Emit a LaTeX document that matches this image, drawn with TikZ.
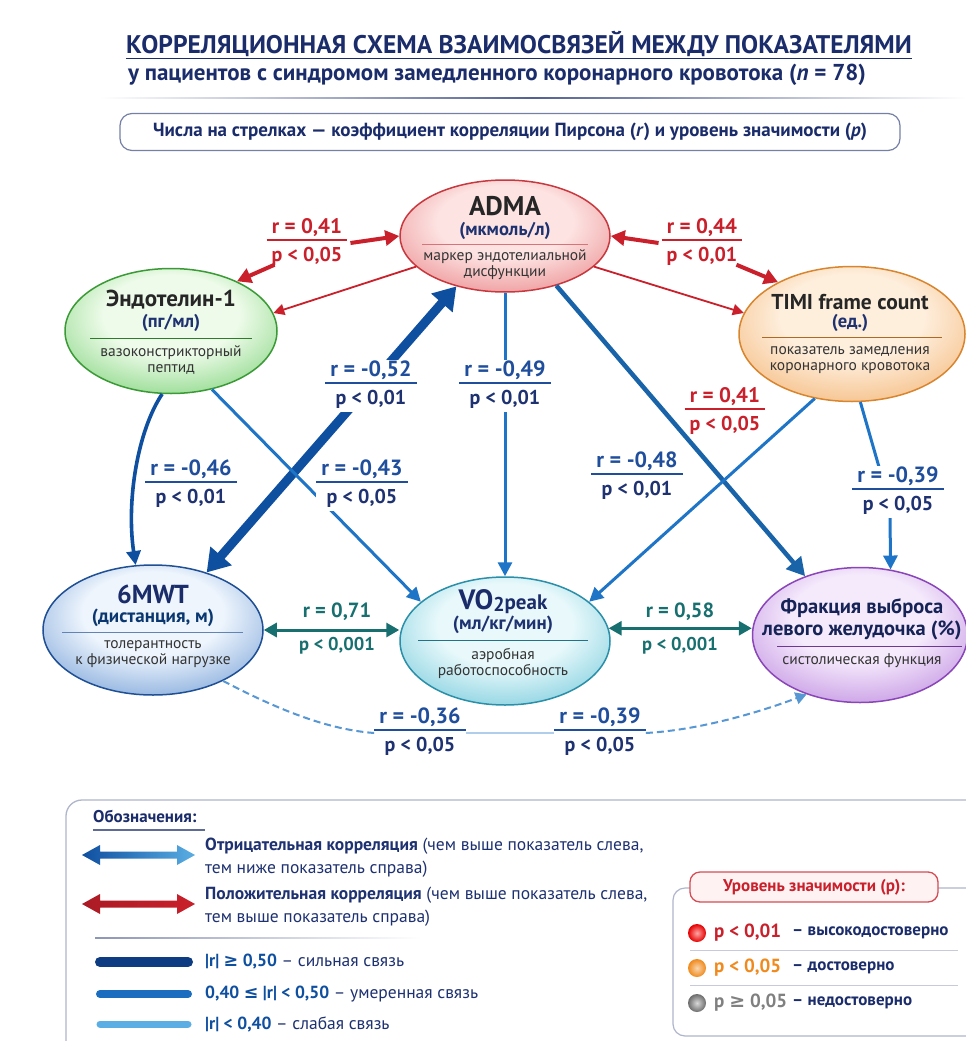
\documentclass[tikz,border=0pt]{standalone}
\usepackage{fontspec}
\setmainfont{PT Sans}
\newfontfamily\symf{DejaVu Sans}
\usetikzlibrary{shapes.geometric,arrows.meta,calc}
\definecolor{navy}{HTML}{1E3170}
\definecolor{tnavy}{HTML}{1B2C6B}
\definecolor{redc}{HTML}{C9202B}
\definecolor{mblue}{HTML}{1E74C6}
\definecolor{dblue}{HTML}{0F4FA0}
\definecolor{lblue}{HTML}{5AAEE3}
\definecolor{barA}{HTML}{0E3C82}
\definecolor{barB}{HTML}{1B6EBF}
\definecolor{barC}{HTML}{5BAEE4}
\definecolor{tealc}{HTML}{17706F}
\definecolor{dgray}{HTML}{333333}
\definecolor{orng}{HTML}{F08A1C}
\definecolor{labblue}{HTML}{1F4E9C}
% ellipse colours
\definecolor{aIn}{HTML}{FDE4E3}\definecolor{aOut}{HTML}{E0575C}\definecolor{aB}{HTML}{C8393F}
\definecolor{eIn}{HTML}{EEFBEA}\definecolor{eOut}{HTML}{45BE41}\definecolor{eB}{HTML}{3A9A36}
\definecolor{tIn}{HTML}{FEEEDC}\definecolor{tOut}{HTML}{EE9840}\definecolor{tB}{HTML}{D9852E}
\definecolor{mIn}{HTML}{EEF5FD}\definecolor{mOut}{HTML}{3572C2}\definecolor{mB}{HTML}{1F4F94}
\definecolor{vIn}{HTML}{E9F9FB}\definecolor{vOut}{HTML}{36B0CA}\definecolor{vB}{HTML}{2A8FA8}
\definecolor{fIn}{HTML}{F5EAFC}\definecolor{fOut}{HTML}{A158D0}\definecolor{fB}{HTML}{8A45B8}
\colorlet{aMid}{aIn!45!aOut}\colorlet{eMid}{eIn!45!eOut}\colorlet{tMid}{tIn!45!tOut}
\colorlet{mMid}{mIn!45!mOut}\colorlet{vMid}{vIn!45!vOut}\colorlet{fMid}{fIn!45!fOut}
\pgfdeclareradialshading{shA}{\pgfpoint{0bp}{8bp}}{color(0bp)=(aIn);color(16bp)=(aIn);color(33bp)=(aMid);color(47bp)=(aOut);color(80bp)=(aOut)}
\pgfdeclareradialshading{shE}{\pgfpoint{0bp}{8bp}}{color(0bp)=(eIn);color(16bp)=(eIn);color(33bp)=(eMid);color(47bp)=(eOut);color(80bp)=(eOut)}
\pgfdeclareradialshading{shT}{\pgfpoint{0bp}{8bp}}{color(0bp)=(tIn);color(16bp)=(tIn);color(33bp)=(tMid);color(47bp)=(tOut);color(80bp)=(tOut)}
\pgfdeclareradialshading{shM}{\pgfpoint{0bp}{8bp}}{color(0bp)=(mIn);color(16bp)=(mIn);color(33bp)=(mMid);color(47bp)=(mOut);color(80bp)=(mOut)}
\pgfdeclareradialshading{shV}{\pgfpoint{0bp}{8bp}}{color(0bp)=(vIn);color(16bp)=(vIn);color(33bp)=(vMid);color(47bp)=(vOut);color(80bp)=(vOut)}
\pgfdeclareradialshading{shF}{\pgfpoint{0bp}{8bp}}{color(0bp)=(fIn);color(16bp)=(fIn);color(33bp)=(fMid);color(47bp)=(fOut);color(80bp)=(fOut)}
\newcommand\fs[2]{\fontsize{#1}{#2}\selectfont}
% r / p label: #1 r-size, #2 p-size, #3 r text, #4 p text
\newcommand\rp[4]{\begin{tabular}{@{\hspace{5pt}}c@{\hspace{5pt}}}\fs{#1}{23}#3\\[-1pt]\hline\rule{0pt}{21pt}\fs{#2}{22}#4\end{tabular}}
\setlength{\arrayrulewidth}{1.2pt}
\tikzset{
  ell/.style={ellipse, shade, inner sep=0pt, line width=1.5pt},
  ttl/.style={inner sep=0pt, font=\bfseries\fs{21}{24}, text=black!85},
  unitt/.style={inner sep=0pt, font=\bfseries\fs{18.5}{20}, text=navy},
  dsc/.style={inner sep=0pt, font=\fs{15.5}{16}, text=dgray},
  divline/.style={line width=0.9pt},
  lab/.style={inner sep=0pt, fill=white, font=\bfseries\fs{22}{23}},
  nolab/.style={inner sep=0pt, font=\bfseries\fs{21}{23}},
  negline/.style={draw=mblue, line width=3pt, -{Triangle[length=14pt,width=14pt]}},
  strongline/.style={draw=dblue, line width=9pt, {Triangle[length=22pt,width=27pt]}-{Triangle[length=22pt,width=27pt]}},
  redthick/.style={draw=redc, line width=4pt, -{Triangle[length=14pt,width=15pt]}},
  redthin/.style={draw=redc, line width=1.8pt, -{Triangle[length=11pt,width=11pt]}},
  tealline/.style={draw=tealc, line width=3pt, {Triangle[length=13pt,width=14pt]}-{Triangle[length=13pt,width=14pt]}},
  dashline/.style={draw=mblue!75, line width=2pt, dash pattern=on 7pt off 4pt},
  legtxt/.style={inner sep=0pt, anchor=west, align=left, font=\fs{17.5}{23}, text=navy},
  sigball/.style={circle, minimum size=18pt, inner sep=0pt, shading=radial},
}
\begin{document}
\begin{tikzpicture}[x=1pt,y=-1pt]
\useasboundingbox (0,0) rectangle (966,1041);
\clip (0,0) rectangle (966,1041);
\fill[white] (0,0) rectangle (966,1041);

% ---------- header ----------
\node[inner sep=0pt, font=\bfseries\fs{25.5}{28}, text=tnavy] (title) at (519,44) {КОРРЕЛЯЦИОННАЯ СХЕМА ВЗАИМОСВЯЗЕЙ МЕЖДУ ПОКАЗАТЕЛЯМИ};
\draw[tnavy, line width=1.6pt] ($(title.base west)+(0,5)$) -- ($(title.base east)+(0,5)$);
\node[inner sep=0pt, font=\bfseries\fs{23}{26}, text=tnavy] (subtitle) at (497,75) {у пациентов с синдромом замедленного коронарного кровотока (\textit{n} = 78)};
\shade[left color=white, right color=white, middle color=tnavy!75] (100,97.2) rectangle (966,98.8);
\node[draw=tnavy!60, line width=1.2pt, rounded corners=12pt, fill=white, minimum width=780pt, minimum height=37pt, font=\bfseries\fs{19}{21}, text=tnavy] (info) at (510,132) {Числа на стрелках — коэффициент корреляции Пирсона (\textit{r}) и уровень значимости (\textit{p})};

% ---------- ellipses ----------
\node[ell, draw=aB, shading=shA, minimum width=210pt, minimum height=112pt] (adma) at (505,236) {};
\node[ttl, font=\bfseries\fs{27}{28}] (admaT) at (505,206) {ADMA};
\node[unitt] (admaU) at (505,231) {(мкмоль/л)};
\draw[divline, aB!70] (422,244) -- (588,244);
\node[dsc, align=center] (admaD) at (505,265) {маркер эндотелиальной\\дисфункции};

\node[ell, draw=eB, shading=shE, minimum width=212pt, minimum height=125pt] (endo) at (171,331) {};
\node[ttl, font=\bfseries\fs{23}{24}] (endoT) at (171,300) {Эндотелин-1};
\node[unitt] (endoU) at (171,323) {(пг/мл)};
\draw[divline, eB!80!black] (90,338) -- (252,338);
\node[dsc, align=center] (endoD) at (171,360) {вазоконстрикторный\\пептид};

\node[ell, draw=tB, shading=shT, minimum width=226pt, minimum height=135pt] (timi) at (852,334) {};
\node[ttl, font=\bfseries\fs{21.5}{24}] (timiT) at (850,302) {TIMI frame count};
\node[unitt] (timiU) at (850,323) {(ед.)};
\draw[divline, tB!80!black] (762,337) -- (942,337);
\node[dsc, align=center] (timiD) at (850,360) {показатель замедления\\коронарного кровотока};

\node[ell, draw=mB, shading=shM, minimum width=220pt, minimum height=130pt] (mwt) at (153,630) {};
\node[ttl, font=\bfseries\fs{26}{28}, text=tnavy] (mwtT) at (153,594) {6MWT};
\node[unitt, font=\bfseries\fs{19}{20}, text=dblue!70!black] (mwtU) at (153,618) {(дистанция, м)};
\draw[divline, mB!70] (62,632) -- (243,632);
\node[dsc, align=center] (mwtD) at (153,654) {толерантность\\к физической нагрузке};

\node[ell, draw=vB, shading=shV, minimum width=210pt, minimum height=128pt] (vo2) at (505,641) {};
\node[ttl, font=\bfseries\fs{28}{30}, text=tnavy] (vo2T) at (503,602) {VO\raisebox{-1.5pt}{\fs{20}{20}2}{\fs{21}{21}peak}};
\node[unitt, font=\bfseries\fs{19}{20}] (vo2U) at (503,625) {(мл/кг/мин)};
\draw[divline, vB!80!black] (418,640) -- (588,640);
\node[dsc, align=center] (vo2D) at (503,663) {аэробная\\работоспособность};

\node[ell, draw=fB, shading=shF, minimum width=215pt, minimum height=135pt] (fr) at (860,635) {};
\node[ttl, font=\bfseries\fs{20.5}{22}, text=tnavy!80!black, align=center] (frT) at (862,619) {Фракция выброса\\левого желудочка (\%)};
\draw[divline, fB!80!black] (777,646) -- (962,646);
\node[dsc] (frD) at (862,661) {систолическая функция};

% ---------- connectors under labels ----------
\draw[strongline] (mwt.47) -- (adma.226);
\draw[negline] (adma.south) -- (vo2.north);
\draw[negline] (endo.305) -- (vo2.155);
\draw[negline, line width=4.5pt, draw=mblue!85!black, -{Triangle[length=18pt,width=19pt]}] (adma.316) -- (fr.133);
\draw[negline] (timi.240) -- (vo2.25);
\draw[negline] (timi.277) -- (881,474) -- (890,512) -- (fr.65);
\draw[negline, line width=3.6pt, draw=dblue] (endo.262) .. controls (138,430) and (126,500) .. (mwt.105);
\draw[tealline] (mwt.east) -- (mwt.east -| vo2.west);
\draw[tealline] (vo2.7) -- (vo2.7 -| fr.west);

% ---------- labels ----------
\node[nolab, text=redc] (l041a) at (307,243) {\rp{21}{20}{r = 0,41}{p < 0,05}};
\node[nolab, text=redc] (l044) at (702,243) {\rp{21}{20}{r = 0,44}{p < 0,01}};
\node[lab, text=labblue] (l052) at (371,386) {\rp{22}{20}{r = -0,52}{\color{navy}p < 0,01}};
\node[lab, text=labblue] (l049) at (505,386) {\rp{22}{20}{r = -0,49}{\color{navy}p < 0,01}};
\node[lab, text=labblue] (l046) at (191,485) {\rp{22}{20}{r = -0,46}{\color{navy}p < 0,01}};
\node[lab, text=labblue] (l043) at (362,485) {\rp{22}{20}{r = -0,43}{\color{navy}p < 0,05}};
\node[nolab, text=redc] (l041b) at (725,412) {\rp{21}{20}{r = 0,41}{p < 0,05}};
\node[lab, text=labblue] (l048) at (637,477) {\rp{22}{20}{r = -0,48}{\color{navy}p < 0,01}};
\node[lab, text=labblue] (l039a) at (898,492) {\rp{22}{20}{r = -0,39}{\color{navy}p < 0,05}};
\node[lab, text=labblue] (l036) at (420,733) {\rp{22}{20}{r = -0,36}{\color{navy}p < 0,05}};
\node[lab, text=labblue] (l039b) at (600,733) {\rp{22}{20}{r = -0,39}{\color{navy}p < 0,05}};
\node[nolab, text=tealc, font=\bfseries\fs{20.5}{23}] (l071r) at (337,612) {r = 0,71};
\node[nolab, text=tealc, font=\bfseries\fs{18.5}{20}] (l071p) at (337,646) {p < 0,001};
\node[nolab, text=tealc, font=\bfseries\fs{20.5}{23}] (l058r) at (680,612) {r = 0,58};
\node[nolab, text=tealc, font=\bfseries\fs{18.5}{20}] (l058p) at (680,646) {p < 0,001};

% ---------- connectors from labels ----------
\draw[redthick] ($(l041a.east)+(3,0)$) -- (adma.west);
\draw[redthick] ($(l041a.south west)+(8,-4)$) -- (endo.37);
\draw[redthin] (adma.199) -- (endo.10);
\draw[redthick] ($(l044.west)+(-3,0)$) -- (adma.east);
\draw[redthick] ($(l044.south east)+(-6,-4)$) -- (timi.145);
\draw[redthin] (adma.341) -- (timi.169);
\draw[dashline] (mwt.-36) .. controls (290,716) and (335,730) .. (l036.west);
\draw[mblue!35, line width=1.2pt] (l036.east) -- (l039b.west);
\draw[dashline, -{Triangle[length=11pt,width=12pt]}] (l039b.east) .. controls (700,730) and (760,712) .. (fr.228);

% ---------- legend ----------
\draw[tnavy!35, line width=1.3pt, rounded corners=16pt] (66,1080) -- (66,800) -- (1000,800);
\node[inner sep=0pt, anchor=west, font=\bfseries\fs{17}{18}, text=tnavy] (legT) at (93,816) {Обозначения:};
\draw[tnavy!70, line width=1.4pt] (93,830) -- (205,830);
\shade[left color=dblue, right color=lblue] (82,855) -- (100,845) -- (100,851.5) -- (177,851.5) -- (177,845) -- (195,855) -- (177,865) -- (177,858.5) -- (100,858.5) -- (100,865) -- cycle;
\node[legtxt] (legNeg) at (205,858) {{\bfseries Отрицательная корреляция} (чем выше показатель слева,\\тем ниже показатель справа)};
\shade[left color=redc!85!black, right color=redc] (82,904) -- (100,894) -- (100,900.5) -- (177,900.5) -- (177,894) -- (195,904) -- (177,914) -- (177,907.5) -- (100,907.5) -- (100,914) -- cycle;
\node[legtxt] (legPos) at (205,907) {{\bfseries Положительная корреляция} (чем выше показатель слева,\\тем выше показатель справа)};
\shade[left color=tnavy!50, right color=white] (95,937.3) rectangle (420,938.7);
\draw[barA, line width=10pt, line cap=round] (100,962) -- (188,962);
\node[legtxt] (legS) at (205,962) {{\bfseries\color{dblue}|r| {\symf ≥} 0,50} – сильная связь};
\draw[barB, line width=8pt, line cap=round] (100,994) -- (188,994);
\node[legtxt] (legM) at (205,994) {{\bfseries\color{dblue}0,40 {\symf ≤} |r| < 0,50} – умеренная связь};
\draw[barC, line width=7pt, line cap=round] (100,1024) -- (188,1024);
\node[legtxt] (legW) at (205,1024) {{\bfseries\color{dblue}|r| < 0,40} – слабая связь};

% ---------- significance box ----------
\draw[tnavy!35, line width=1.2pt, rounded corners=12pt, fill=white] (673,888) rectangle (1000,1036);
\node[draw=redc!80, fill=red!5, line width=1.3pt, rounded corners=10pt, minimum width=248pt, minimum height=30pt, font=\bfseries\fs{17}{18}, text=redc] (sigH) at (814,887) {Уровень значимости (p):};
\node[sigball, inner color=red!35!white, outer color=red!90!black] (c1) at (697,933) {};
\node[inner sep=0pt, anchor=west, font=\bfseries\fs{19}{20}, text=redc] (s1) at (714,933) {p < 0,01};
\node[inner sep=0pt, anchor=west, font=\bfseries\fs{17}{18}, text=tnavy] (d1) at (792,933) {– высокодостоверно};
\draw[tnavy!25, line width=1pt] (690,950) -- (958,950);
\node[sigball, inner color=orng!35!white, outer color=orng] (c2) at (697,968) {};
\node[inner sep=0pt, anchor=west, font=\bfseries\fs{19}{20}, text=orng] (s2) at (714,968) {p < 0,05};
\node[inner sep=0pt, anchor=west, font=\bfseries\fs{17}{18}, text=tnavy] (d2) at (792,968) {– достоверно};
\draw[tnavy!25, line width=1pt] (690,985) -- (958,985);
\node[sigball, inner color=gray!30!white, outer color=gray!85!black] (c3) at (697,1003) {};
\node[inner sep=0pt, anchor=west, font=\bfseries\fs{19}{20}, text=gray] (s3) at (714,1003) {p {\symf ≥} 0,05};
\node[inner sep=0pt, anchor=west, font=\bfseries\fs{17}{18}, text=tnavy] (d3) at (792,1003) {– недостоверно};
\end{tikzpicture}
\end{document}
